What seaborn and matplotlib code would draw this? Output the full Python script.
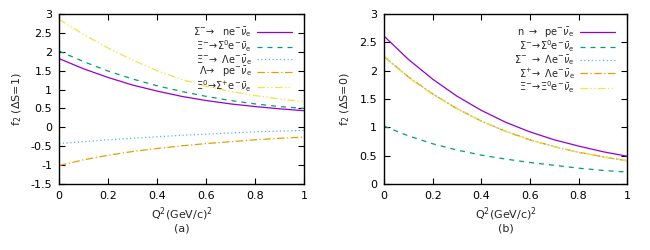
# f2 form factors vs Q^2 for semileptonic hyperon decays (gnuplot-like look)
import matplotlib
matplotlib.use("Agg")
import matplotlib.pyplot as plt
from matplotlib.ticker import FormatStrFormatter, MultipleLocator
import seaborn as sns

# Q^2 grid (GeV/c)^2
q2 = [0.0, 0.1, 0.2, 0.3, 0.4, 0.5, 0.6, 0.7, 0.8, 0.9, 1.0]

# panel (a): Delta S = 1
sigma_n = [1.82, 1.55, 1.32, 1.12, 0.96, 0.82, 0.71, 0.62, 0.55, 0.49, 0.44]
xi_sigma0 = [2.02, 1.74, 1.49, 1.28, 1.10, 0.95, 0.82, 0.71, 0.62, 0.55, 0.50]
xi_lambda = [-0.43, -0.38, -0.33, -0.29, -0.25, -0.21, -0.18, -0.15, -0.12, -0.10, -0.08]
lambda_p = [-1.01, -0.86, -0.74, -0.64, -0.56, -0.49, -0.43, -0.38, -0.33, -0.29, -0.26]
xi0_sigmap = [2.86, 2.46, 2.10, 1.78, 1.50, 1.27, 1.09, 0.95, 0.84, 0.75, 0.68]

# panel (b): Delta S = 0
n_p = [2.61, 2.20, 1.85, 1.55, 1.30, 1.09, 0.92, 0.78, 0.67, 0.57, 0.49]
sigm_sigma0 = [1.02, 0.85, 0.71, 0.60, 0.51, 0.44, 0.38, 0.33, 0.28, 0.24, 0.21]
sigm_lambda = [2.25, 1.89, 1.59, 1.33, 1.11, 0.93, 0.78, 0.66, 0.56, 0.48, 0.41]
sigp_lambda = [2.25, 1.89, 1.59, 1.33, 1.11, 0.93, 0.78, 0.66, 0.56, 0.48, 0.41]
xi_xi0 = [2.24, 1.88, 1.58, 1.33, 1.11, 0.93, 0.78, 0.66, 0.56, 0.48, 0.41]

nu = r"\bar{\nu}_\mathrm{e}"
labels_a = [r"$\Sigma^{-}\!\rightarrow\ \ \mathrm{ne}^{-}" + nu + "$",
            r"$\Xi^{-}\!\rightarrow\!\Sigma^{0}\mathrm{e}^{-}" + nu + "$",
            r"$\Xi^{-}\!\rightarrow\ \Lambda\mathrm{e}^{-}" + nu + "$",
            r"$\Lambda\!\rightarrow\ \ \mathrm{pe}^{-}" + nu + "$",
            r"$\Xi^{0}\!\rightarrow\!\Sigma^{+}\mathrm{e}^{-}" + nu + "$"]
labels_b = [r"$\mathrm{n}\ \rightarrow\ \ \mathrm{pe}^{-}" + nu + "$",
            r"$\Sigma^{-}\!\rightarrow\!\Sigma^{0}\mathrm{e}^{-}" + nu + "$",
            r"$\Sigma^{-}\ \rightarrow\ \Lambda\mathrm{e}^{-}" + nu + "$",
            r"$\Sigma^{+}\!\rightarrow\ \Lambda\mathrm{e}^{-}" + nu + "$",
            r"$\Xi^{-}\!\rightarrow\!\Xi^{0}\mathrm{e}^{-}" + nu + "$"]

colors = ["#9400d3", "#009e73", "#56b4e9", "#e69f00", "#f0e442"]
styles = ["-", (0, (4, 4)), (0, (1, 2)), (0, (6, 2, 1, 2)), (0, (6, 2, 1, 2, 1, 2))]

sns.set_style("ticks")
plt.rcParams["font.family"] = ["DejaVu Sans"]
plt.rcParams["mathtext.fontset"] = "dejavusans"
plt.rcParams["axes.unicode_minus"] = False

fig = plt.figure(figsize=(6.5, 2.5), dpi=100)
ax_a = fig.add_axes([0.0908, 0.264, 0.377, 0.680])
ax_b = fig.add_axes([0.5908, 0.264, 0.374, 0.680])

panels = [
    (ax_a, [sigma_n, xi_sigma0, xi_lambda, lambda_p, xi0_sigmap], labels_a,
     (-1.5, 3), r"f$_2$ ($\Delta$S=1)", "(a)"),
    (ax_b, [n_p, sigm_sigma0, sigm_lambda, sigp_lambda, xi_xi0], labels_b,
     (0, 3), r"f$_2$ ($\Delta$S=0)", "(b)"),
]

for ax, series, labels, ylim, ylab, tag in panels:
    for vals, lab, c, ls in zip(series, labels, colors, styles):
        sns.lineplot(x=q2, y=vals, ax=ax, color=c, label=lab, linewidth=0.9,
                     linestyle=ls)
    ax.set_xlim(0, 1)
    ax.set_ylim(*ylim)
    ax.xaxis.set_major_locator(MultipleLocator(0.2))
    ax.yaxis.set_major_locator(MultipleLocator(0.5))
    ax.xaxis.set_major_formatter(FormatStrFormatter("%g"))
    ax.yaxis.set_major_formatter(FormatStrFormatter("%g"))
    ax.tick_params(direction="in", top=True, right=True, labelsize=8,
                   length=4, width=0.8, colors="black", pad=5)
    for sp in ax.spines.values():
        sp.set_visible(True)
        sp.set_linewidth(1.0)
        sp.set_color("black")
    ax.set_xlabel("Q$^2$(GeV/c)$^2$\n" + tag, fontsize=8, labelpad=3,
                  linespacing=1.1)
    ax.set_ylabel(ylab, fontsize=8, labelpad=5)
    ax.legend(loc="upper right", frameon=False, fontsize=7, markerfirst=False,
              handlelength=3.6, handletextpad=0.6, labelspacing=-0.12,
              borderaxespad=1.0, borderpad=0.2)

fig.savefig("out.png", dpi=100)
